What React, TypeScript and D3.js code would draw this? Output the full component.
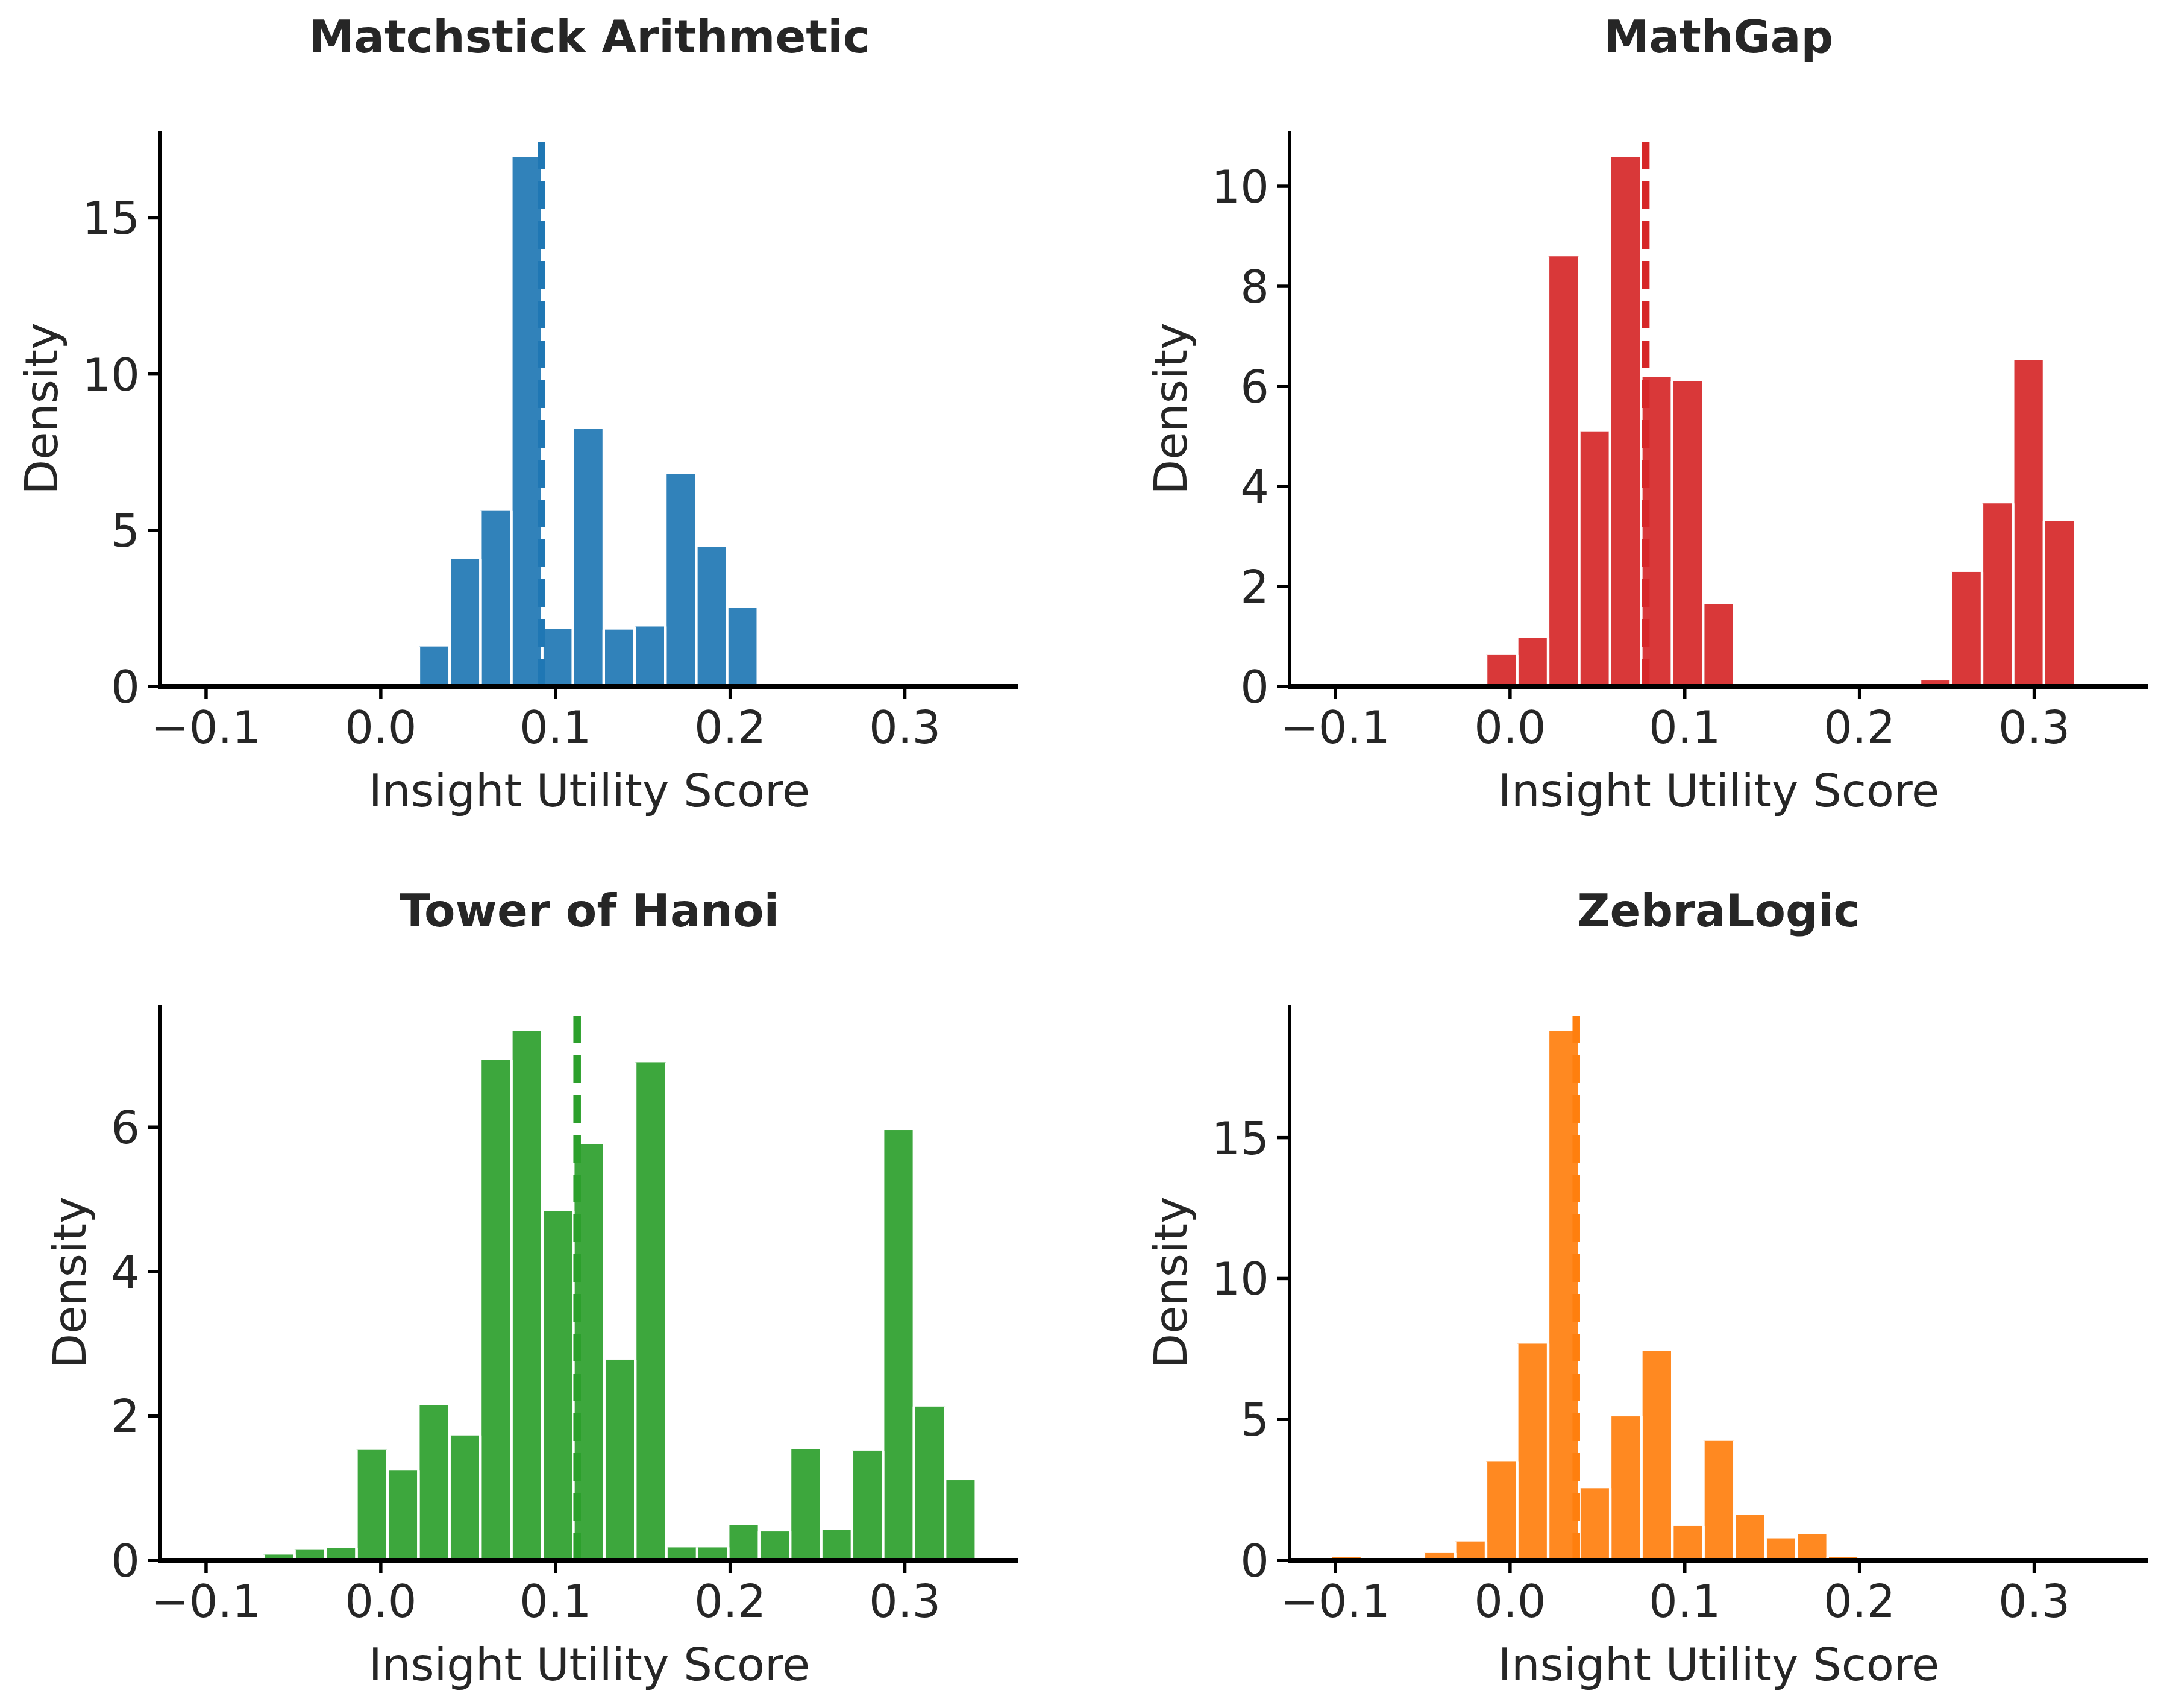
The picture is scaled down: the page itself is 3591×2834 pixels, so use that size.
import React, { useEffect } from 'react';
import * as d3 from 'd3';

// Panel titles and colours, in reading order
const titles = ['Matchstick Arithmetic', 'MathGap', 'Tower of Hanoi', 'ZebraLogic'];
const colors = ['#1f77b4', '#d62728', '#2ca02c', '#ff7f0e'];

// Histogram densities per bin (bins start at binStarts[i], width binWidths[i])
const matchstickDensity = [1.28, 4.09, 5.62, 16.94, 1.84, 8.24, 1.82, 1.92, 6.8, 4.47, 2.52];
const mathGapDensity = [0.64, 0.97, 8.6, 5.1, 10.58, 6.19, 6.1, 1.65, 0, 0, 0, 0, 0, 0, 0.12, 2.29, 3.66, 6.53, 3.31];
const hanoiDensity = [
  0.08, 0.145, 0.167, 1.53, 1.25, 2.15, 1.73, 6.93, 7.33, 4.84, 5.76, 2.78,
  6.9, 0.18, 0.18, 0.49, 0.4, 1.54, 0.42, 1.52, 5.96, 2.13, 1.11,
];
const zebraDensity = [0.11, 0, 0, 0.28, 0.67, 3.52, 7.69, 18.78, 2.56, 5.11, 7.43, 1.22, 4.24, 1.61, 0.78, 0.92, 0.11];

const densities = [matchstickDensity, mathGapDensity, hanoiDensity, zebraDensity];
const binStarts = [0.0218, -0.0137, -0.0671, -0.1026];
const binWidths = [0.01764, 0.01774, 0.01773, 0.01777];

// Mean insight utility score (dashed line)
const means = [0.092, 0.0777, 0.1124, 0.0379];

const xTicks = [-0.1, 0.0, 0.1, 0.2, 0.3];
const xTickLabels = ['\u22120.1', '0.0', '0.1', '0.2', '0.3'];
const yTicks = [
  [0, 5, 10, 15],
  [0, 2, 4, 6, 8, 10],
  [0, 2, 4, 6],
  [0, 5, 10, 15],
];
const xDomain = [-0.1262, 0.365];

const W = 3591;
const H = 2834;
const FONT = 'DejaVu Sans, sans-serif';
const FS = 75;
const TEXT = '#262626';

const colX = [266, 2140];
const rowY = [217, 1667];
const plotW = 1424;
const plotH = 922;

const Panel = ({ idx }) => {
  const x0 = colX[idx % 2];
  const y0 = rowY[Math.floor(idx / 2)];
  const x1 = x0 + plotW;
  const y1 = y0 + plotH;
  const data = densities[idx];
  const color = colors[idx];

  const x = d3.scaleLinear().domain(xDomain).range([x0, x1]);
  const yMax = (d3.max(data) || 1) * 1.05;
  const y = d3.scaleLinear().domain([0, yMax]).range([y1, y0]);

  const bins = data
    .map((v, i) => ({
      lo: binStarts[idx] + i * binWidths[idx],
      hi: binStarts[idx] + (i + 1) * binWidths[idx],
      v,
    }))
    .filter((b) => b.v > 0);

  const maxLabelChars = d3.max(yTicks[idx], (t) => String(t).length);
  const yLabelX = x0 - 34 - maxLabelChars * 0.636 * FS - 42;
  const mx = x(means[idx]);

  return (
    <g>
      {bins.map((b, i) => (
        <rect
          key={i}
          x={x(b.lo)}
          y={y(b.v)}
          width={x(b.hi) - x(b.lo)}
          height={y1 - y(b.v)}
          fill={color}
          fillOpacity={0.92}
        />
      ))}
      {/* white bar edges */}
      {bins.map((b, i) => (
        <g key={'e' + i}>
          <line x1={x(b.lo)} x2={x(b.lo)} y1={y1} y2={y(b.v)} stroke="#fff" strokeWidth={4.2} />
          <line x1={x(b.hi)} x2={x(b.hi)} y1={y1} y2={y(b.v)} stroke="#fff" strokeWidth={4.2} />
        </g>
      ))}
      <line
        x1={mx}
        x2={mx}
        y1={y1}
        y2={y0}
        stroke={color}
        strokeWidth={12.5}
        strokeDasharray="46 20"
      />
      {/* spines */}
      <line x1={x0} x2={x0} y1={y0} y2={y1} stroke="#000" strokeWidth={6} />
      <line x1={x0 - 3} x2={x1} y1={y1} y2={y1} stroke="#000" strokeWidth={8} />
      {/* x ticks */}
      {xTicks.map((t, i) => (
        <g key={t}>
          <line x1={x(t)} x2={x(t)} y1={y1} y2={y1 + 21} stroke="#000" strokeWidth={5.5} />
          <text
            x={x(t)}
            y={y1 + 94}
            textAnchor="middle"
            fontFamily={FONT}
            fontSize={FS}
            fill={TEXT}
          >
            {xTickLabels[i]}
          </text>
        </g>
      ))}
      {/* y ticks */}
      {yTicks[idx].map((t) => (
        <g key={t}>
          <line x1={x0 - 21} x2={x0} y1={y(t)} y2={y(t)} stroke="#000" strokeWidth={5.5} />
          <text
            x={x0 - 34}
            y={y(t) + 27}
            textAnchor="end"
            fontFamily={FONT}
            fontSize={FS}
            fill={TEXT}
          >
            {t}
          </text>
        </g>
      ))}
      <text
        x={(x0 + x1) / 2}
        y={y1 + 199}
        textAnchor="middle"
        fontFamily={FONT}
        fontSize={FS}
        fill={TEXT}
      >
        Insight Utility Score
      </text>
      <text
        transform={`translate(${yLabelX},${(y0 + y1) / 2}) rotate(-90)`}
        textAnchor="middle"
        fontFamily={FONT}
        fontSize={FS}
        fill={TEXT}
      >
        Density
      </text>
      <text
        x={(x0 + x1) / 2}
        y={y0 - 130}
        textAnchor="middle"
        fontFamily={FONT}
        fontSize={FS}
        fontWeight="bold"
        fill={TEXT}
      >
        {titles[idx]}
      </text>
    </g>
  );
};

const App = () => {
  useEffect(() => {
    document.body.style.margin = '0';
  }, []);

  return (
    <svg width={W} height={H} style={{ display: 'block', background: '#fff' }}>
      <rect width={W} height={H} fill="#fff" />
      {titles.map((_, i) => (
        <Panel key={i} idx={i} />
      ))}
    </svg>
  );
};

export default App;
